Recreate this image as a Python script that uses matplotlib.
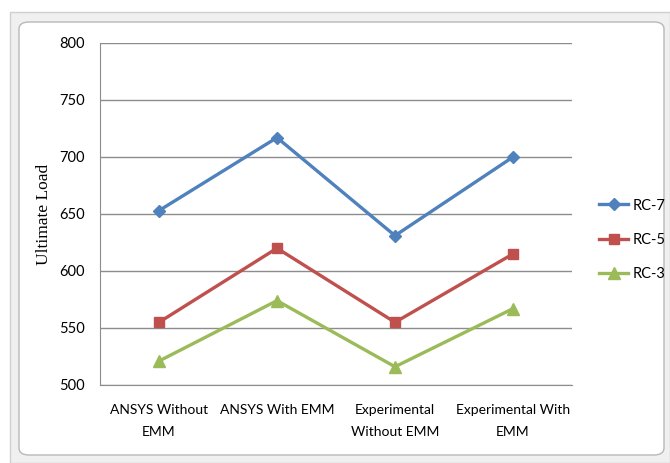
import numpy as np
import matplotlib
matplotlib.use("Agg")
import matplotlib.pyplot as plt
from matplotlib.patches import FancyBboxPatch, Rectangle

categories = ["ANSYS Without\nEMM", "ANSYS With EMM", "Experimental\nWithout EMM", "Experimental With\nEMM"]
rc7 = [653, 717, 631, 700]
rc5 = [555, 620, 555, 615]
rc3 = [521, 574, 516, 567]
yticks = [500, 550, 600, 650, 700, 750, 800]

lab_font = ['Lato', 'DejaVu Sans']

fig = plt.figure(figsize=(6.7, 4.63), dpi=100)
fig.patch.set_facecolor('white')

# chart frame (drawn behind the axes)
fig.patches.append(Rectangle((10/670, 0), 660/670, 1 - 12/463, transform=fig.transFigure,
                             facecolor='#f0f0f0', edgecolor='#d0d0d0', lw=1, zorder=-2))
fig.patches.append(FancyBboxPatch((19/670, 8/463), 645/670, 1 - 30/463,
                                  boxstyle="round,pad=0,rounding_size=0.015",
                                  transform=fig.transFigure, facecolor='white',
                                  edgecolor='#b8b8b8', lw=1, zorder=-1))

ax = fig.add_axes([100/670, 1 - 385/463, 472/670, 342/463])
ax.set_facecolor('none')
x = np.arange(len(categories))
ax.plot(x, rc7, color='#4F81BD', lw=2.4, marker='D', ms=6.5, label='RC-7')
ax.plot(x, rc5, color='#C0504D', lw=2.4, marker='s', ms=7, label='RC-5')
ax.plot(x, rc3, color='#9BBB59', lw=2.4, marker='^', ms=8.5, label='RC-3')

ax.set_xlim(-0.5, len(categories) - 0.5)
ax.set_ylim(500, 800)
ax.set_yticks(yticks)
ax.set_xticks(x)
ax.set_xticklabels(categories, fontsize=10, family=lab_font, linespacing=1.95)
ax.set_yticklabels([str(v) for v in yticks], fontsize=10.5, family=lab_font)
ax.tick_params(axis='both', length=0, pad=11)
ax.tick_params(axis='x', pad=14)
ax.yaxis.grid(True, color='#8c8c8c', lw=1)
ax.set_axisbelow(True)
for s in ['top', 'right']:
    ax.spines[s].set_visible(False)
for s in ['left', 'bottom']:
    ax.spines[s].set_color('#8c8c8c')

ax.set_ylabel('Ultimate Load', fontsize=12.5, family='Liberation Serif', labelpad=5)

leg = ax.legend(loc='center left', bbox_to_anchor=(1.03, 0.424), frameon=False,
                prop={'family': lab_font, 'size': 10.5}, handlelength=2.0,
                labelspacing=1.4, handletextpad=0.3)

fig.savefig('out.png', dpi=100)
